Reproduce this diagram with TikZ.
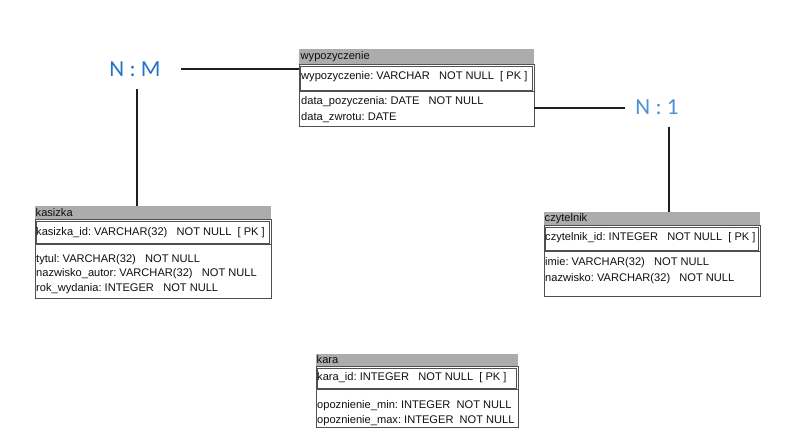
\documentclass[tikz,border=0pt]{standalone}
\usepackage{fontspec}
\setmainfont{Liberation Sans}
\newfontfamily\lblfont{Carlito}
\frenchspacing
\definecolor{hdrgray}{RGB}{172,172,172}
\definecolor{edgegray}{RGB}{80,80,80}
\definecolor{txtcol}{RGB}{15,15,15}
\definecolor{nmblue}{RGB}{35,115,200}
\definecolor{onblue}{RGB}{75,145,215}
\tikzset{
  hdr/.style={rectangle, fill=hdrgray, draw=none, inner sep=0pt, outer sep=0pt},
  tbody/.style={rectangle, draw=edgegray, line width=0.9pt, fill=white, inner sep=0pt, outer sep=0pt},
  pkbox/.style={rectangle, draw=edgegray, line width=0.8pt, inner sep=0pt, outer sep=0pt},
  sepline/.style={draw=edgegray, line width=0.9pt},
  rowtxt/.style={inner sep=0pt, anchor=west, text=txtcol, font=\frenchspacing\fontsize{11.1}{13}\selectfont},
  reltxt/.style={inner sep=0pt, anchor=base, font=\lblfont\fontsize{23}{26}\selectfont},
  conn/.style={draw=black!88, line width=2pt}
}
\newcommand\erdbox[7]{%
  \pgfmathsetmacro\erdw{#3-#2}%
  \pgfmathsetmacro\erdhh{#5-#4}%
  \pgfmathsetmacro\erdbh{#7-#5}%
  \pgfmathsetmacro\erdph{#6-#5-2}%
  \pgfmathsetmacro\erdpw{#3-#2-3}%
  \node[hdr, minimum width=\erdw pt, minimum height=\erdhh pt, anchor=north west] (#1-h) at (#2,#4) {};
  \node[tbody, minimum width=\erdw pt, minimum height=\erdbh pt, anchor=north west] (#1) at (#2,#5) {};
  \node[pkbox, minimum width=\erdpw pt, minimum height=\erdph pt, anchor=north west] (#1-pk) at ({#2+1.5},{#5+2}) {};
  \draw[sepline] (#2,{#6+1.5}) -- (#3,{#6+1.5});
}
\begin{document}
\begin{tikzpicture}[x=1pt,y=-1pt]
\useasboundingbox[fill=white] (0,0) rectangle (803,442);

% wypozyczenie
\erdbox{wyp}{299}{534}{49}{64}{90}{126}
\node[rowtxt] (wyp-t) at (300.5,56.5) {wypozyczenie};
\node[rowtxt] (wyp-a0) at (301,77) {wypozyczenie: VARCHAR~~~NOT NULL~~[ PK ]};
\node[rowtxt] (wyp-a1) at (301,101.5) {data\_pozyczenia: DATE~~~NOT NULL};
\node[rowtxt] (wyp-a2) at (301,117.5) {data\_zwrotu: DATE};

% kasizka
\erdbox{kas}{35}{271}{206}{219}{243}{298}
\node[rowtxt] (kas-t) at (35.5,213) {kasizka};
\node[rowtxt] (kas-a0) at (36,232.5) {kasizka\_id: VARCHAR(32)~~~NOT NULL~~[ PK ]};
\node[rowtxt] (kas-a1) at (36,259.5) {tytul: VARCHAR(32)~~~NOT NULL};
\node[rowtxt] (kas-a2) at (36,274) {nazwisko\_autor: VARCHAR(32)~~~NOT NULL};
\node[rowtxt] (kas-a3) at (36,289) {rok\_wydania: INTEGER~~~NOT NULL};

% czytelnik
\erdbox{czy}{544}{760}{212}{225}{250}{296}
\node[rowtxt] (czy-t) at (544.5,218.5) {czytelnik};
\node[rowtxt] (czy-a0) at (545,237.5) {czytelnik\_id: INTEGER~~~NOT NULL~~[ PK ]};
\node[rowtxt] (czy-a1) at (545,263) {imie: VARCHAR(32)~~~NOT NULL};
\node[rowtxt] (czy-a2) at (545,279) {nazwisko: VARCHAR(32)~~~NOT NULL};

% kara
\erdbox{kara}{316}{518}{354}{366}{388}{427}
\node[rowtxt] (kara-t) at (316.5,360) {kara};
\node[rowtxt] (kara-a0) at (317,378) {kara\_id: INTEGER~~~NOT NULL~~[ PK ]};
\node[rowtxt] (kara-a1) at (317,405.5) {opoznienie\_min: INTEGER~~NOT NULL};
\node[rowtxt] (kara-a2) at (317,420.5) {opoznienie\_max: INTEGER~~NOT NULL};

% relationship labels
\node[reltxt, text=nmblue] (nm) at (135,76.7) {N : M};
\node[reltxt, text=onblue] (n1) at (657,114.3) {N : 1};

% connectors
\coordinate (nmR) at (181,69);
\coordinate (nmB) at (137,89);
\coordinate (n1L) at (625,107.5);
\coordinate (n1B) at (669,127);
\draw[conn] (nmR) -- (nmR -| wyp.west);
\draw[conn] (nmB) -- (nmB |- kas-h.north);
\draw[conn] (n1L -| wyp.east) -- (n1L);
\draw[conn] (n1B) -- (n1B |- czy-h.north);
\end{tikzpicture}
\end{document}
